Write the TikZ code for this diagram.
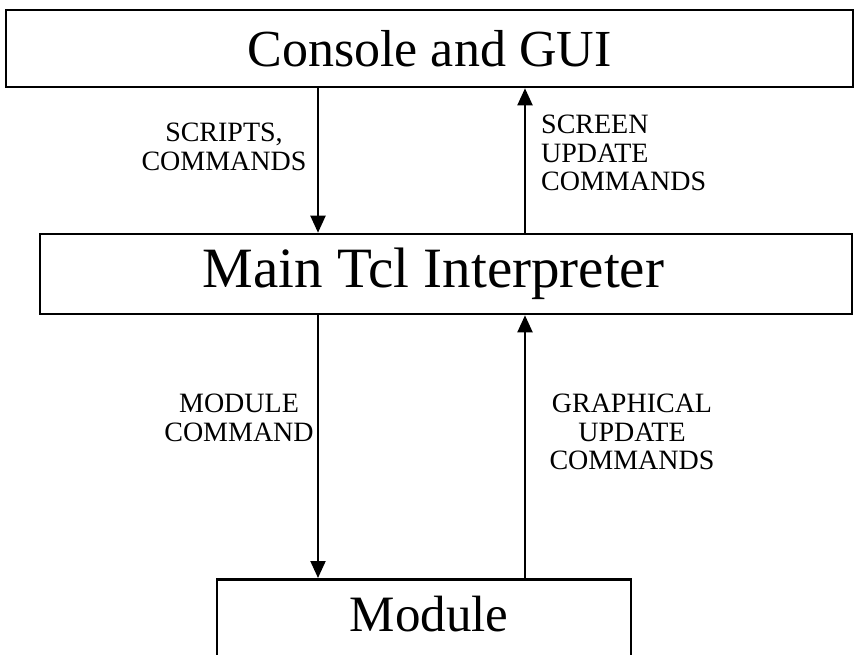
\documentclass[tikz,border=0pt]{standalone}
\usepackage{fontspec}
\setmainfont{Liberation Serif}
\usetikzlibrary{arrows.meta}
\begin{document}
\begin{tikzpicture}[x=1pt,y=-1pt,
  box/.style={draw=black,line width=2.6pt,rectangle,inner sep=0pt,align=center},
  lbl/.style={font=\fontsize{28}{28.5}\selectfont,inner sep=0pt},
  arr/.style={line width=2pt,-{Triangle[width=15pt,length=17pt]}}]
\useasboundingbox (0,0) rectangle (859,654);
\clip (0,0) rectangle (859,654);
\node[box,minimum width=847pt,minimum height=77pt,font=\fontsize{52}{60}\selectfont] (top) at (429.5,48.5) {Console and GUI};
\node[box,minimum width=812pt,minimum height=80pt,font=\fontsize{57}{64}\selectfont] (mid) at (446,274) {Main Tcl Interpreter\hspace*{25pt}};
\node[box,anchor=north,minimum width=414pt,minimum height=122pt,text height=52pt,text depth=70pt,font=\fontsize{51}{58}\selectfont] (mod) at (424,578) {\hspace*{10pt}Module};
\coordinate (xl) at (318,0);
\coordinate (xr) at (525,0);
\draw[arr] (top.south -| xl) -- (mid.north -| xl);
\draw[arr] (mid.north -| xr) -- (top.south -| xr);
\draw[arr] (mid.south -| xl) -- (mod.north -| xl);
\draw[arr] (mod.north -| xr) -- (mid.south -| xr);
\node[lbl,align=center] (l1) at (224,147) {SCRIPTS,\\COMMANDS};
\node[lbl,align=left,anchor=west] (l2) at (541,153) {SCREEN\\UPDATE\\COMMANDS};
\node[lbl,align=center] (l3) at (239,418) {MODULE\\COMMAND};
\node[lbl,align=center] (l4) at (632,432) {GRAPHICAL\\UPDATE\\COMMANDS};
\end{tikzpicture}
\end{document}
